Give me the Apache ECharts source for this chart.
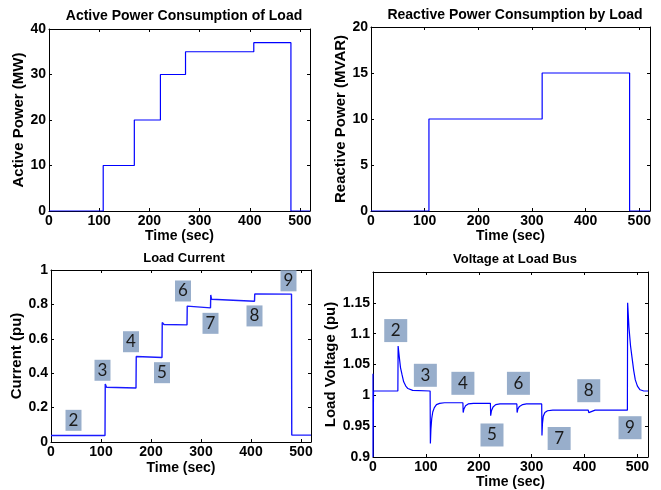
<!DOCTYPE html>
<html>
<head>
<meta charset="utf-8">
<script src="https://cdn.jsdelivr.net/npm/echarts@6/dist/echarts.min.js"></script>
<style>html,body{margin:0;background:#fff}#main{width:661px;height:490px}</style>
</head>
<body>
<div id="main"></div>
<script>
var chartDom = document.getElementById('main');
var myChart = echarts.init(chartDom);
var option;

// values (time in sec)
var activeT = [0, 108, 108, 170, 170, 222, 222, 272, 272, 408, 408, 482, 482, 520];
var activeP = [0, 0, 10, 10, 20, 20, 30, 30, 35, 35, 37, 37, 0, 0];

var reactiveT = [0, 108, 108, 319, 319, 482, 482, 520];
var reactiveQ = [0, 0, 10, 10, 15, 15, 0, 0];

var currentT = [0, 108, 108.5, 111, 115, 170, 170.5, 173, 222, 222.5, 226, 272, 272.5, 276, 319, 319.5, 321, 323, 407, 407.5, 481, 481.5, 520];
var currentI = [0.038, 0.038, 0.337, 0.318, 0.314, 0.314, 0.497, 0.491, 0.491, 0.695, 0.683, 0.681, 0.790, 0.781, 0.780, 0.855, 0.830, 0.820, 0.818, 0.861, 0.860, 0.040, 0.040];

var voltT = [0, 0, 1, 47, 47.5, 50, 52, 55, 58, 62, 66, 75, 108, 108.5, 109.5, 111, 113, 116, 120, 126, 135, 170, 170.5, 172, 175, 180, 190,
  222, 222.5, 224, 227, 232, 240, 272, 272.5, 274, 277, 283, 290, 319, 319.5, 320.5, 322, 325, 330, 340, 407, 408, 410, 414, 420,
  481, 481.5, 484, 487, 490, 493, 496, 500, 505, 512, 520];
var voltV = [1.035, 0.9, 1.007, 1.007, 1.08, 1.06, 1.045, 1.033, 1.022, 1.015, 1.011, 1.008, 1.007, 0.922, 0.945, 0.962, 0.973, 0.980, 0.985, 0.987, 0.988, 0.988, 0.972, 0.978, 0.983, 0.986, 0.987,
  0.987, 0.967, 0.975, 0.981, 0.985, 0.986, 0.986, 0.972, 0.978, 0.982, 0.985, 0.986, 0.986, 0.935, 0.955, 0.966, 0.972, 0.975, 0.976, 0.976, 0.972, 0.971, 0.974, 0.976,
  0.976, 1.15, 1.11, 1.08, 1.06, 1.04, 1.025, 1.015, 1.009, 1.007, 1.007];

// numbered boxes: [text, time, value]
var currentMarks = [['2', 45, 0.126], ['3', 103, 0.417], ['4', 160, 0.583], ['5', 222, 0.403], ['6', 264, 0.878], ['7', 319, 0.690], ['8', 407, 0.733], ['9', 475, 0.937]];
var voltMarks = [['2', 43, 1.105], ['3', 99, 1.0325], ['4', 170, 1.0195], ['5', 225, 0.9357], ['6', 275, 1.0195], ['7', 352, 0.930], ['8', 408, 1.0075], ['9', 486, 0.9475]];

var FONT = 'Liberation Sans';

function zip(t, v) {
  return t.map(function (x, i) { return [x, v[i]]; });
}

function xAxis(g, gap) {
  return {
    type: 'value', gridIndex: g, min: 0, max: 520, interval: 100,
    name: 'Time (sec)', nameLocation: 'middle', nameGap: gap,
    nameTextStyle: { color: '#000', fontWeight: 'bold', fontSize: 14, fontFamily: FONT },
    axisLine: { show: true, onZero: false, lineStyle: { color: '#000', width: 1 } },
    axisTick: { inside: true, length: 3, lineStyle: { color: '#000' } },
    axisLabel: { showMaxLabel: false, margin: 3, color: '#000', fontWeight: 'bold', fontSize: 14, fontFamily: FONT },
    splitLine: { show: false }
  };
}
function xTop(g) {
  return {
    type: 'value', gridIndex: g, position: 'top', min: 0, max: 520, interval: 100,
    axisLine: { show: true, onZero: false, lineStyle: { color: '#000', width: 1 } },
    axisTick: { inside: true, length: 3, lineStyle: { color: '#000' } },
    axisLabel: { show: false }, splitLine: { show: false }
  };
}
function yAxis(g, name, min, max, step, gap, hideMax) {
  return {
    type: 'value', gridIndex: g, min: min, max: max, interval: step,
    name: name, nameLocation: 'middle', nameGap: gap,
    nameTextStyle: { color: '#000', fontWeight: 'bold', fontSize: 15, fontFamily: FONT },
    axisLine: { show: true, onZero: false, lineStyle: { color: '#000', width: 1 } },
    axisTick: { inside: true, length: 3, lineStyle: { color: '#000' } },
    axisLabel: { showMaxLabel: !hideMax, margin: 3, color: '#000', fontWeight: 'bold', fontSize: 14, fontFamily: FONT },
    splitLine: { show: false }
  };
}
function yRight(g, min, max, step) {
  return {
    type: 'value', gridIndex: g, position: 'right', min: min, max: max, interval: step,
    axisLine: { show: true, onZero: false, lineStyle: { color: '#000', width: 1 } },
    axisTick: { inside: true, length: 3, lineStyle: { color: '#000' } },
    axisLabel: { show: false }, splitLine: { show: false }
  };
}
function boxes(list, size) {
  return {
    symbol: 'rect', symbolSize: size, silent: true,
    itemStyle: { color: '#98aecb' },
    label: { show: true, position: 'inside', color: '#1a1a1a', fontSize: 17, fontFamily: 'Lato', formatter: function (p) { return p.name; } },
    data: list.map(function (m) { return { name: m[0], coord: [m[1], m[2]] }; })
  };
}
function titleAt(text, cx, top, size) {
  return { text: text, left: cx, top: top, textAlign: 'center',
    textStyle: { color: '#000', fontWeight: 'bold', fontSize: size, fontFamily: FONT } };
}

option = {
  animation: false,
  title: [
    titleAt('Active Power Consumption of Load', 179, 4, 14),
    titleAt('Reactive Power Consumption by Load', 510, 3, 14),
    titleAt('Load Current', 179, 247, 13),
    titleAt('Voltage at Load Bus', 510, 248, 13)
  ],
  grid: [
    { left: 49, top: 29, width: 261, height: 182, outerBoundsMode: 'none' },
    { left: 371, top: 27, width: 279, height: 184, outerBoundsMode: 'none' },
    { left: 51, top: 270, width: 260, height: 172, outerBoundsMode: 'none' },
    { left: 373, top: 272, width: 275, height: 185, outerBoundsMode: 'none' }
  ],
  xAxis: [xAxis(0, 17), xAxis(1, 17), xAxis(2, 19), xAxis(3, 17), xTop(0), xTop(1), xTop(2), xTop(3)],
  yAxis: [
    yAxis(0, 'Active Power (MW)', 0, 40, 10, 21, false),
    yAxis(1, 'Reactive Power (MVAR)', 0, 20, 5, 21, false),
    yAxis(2, 'Current (pu)', 0, 1, 0.2, 22, false),
    yAxis(3, 'Load Voltage (pu)', 0.9, 1.2, 0.05, 28, true),
    yRight(0, 0, 40, 10), yRight(1, 0, 20, 5), yRight(2, 0, 1, 0.2), yRight(3, 0.9, 1.2, 0.05)
  ],
  series: [
    { type: 'line', xAxisIndex: 0, yAxisIndex: 0, data: zip(activeT, activeP), showSymbol: false, z: 5,
      lineStyle: { color: '#0000ff', width: 1.2 } },
    { type: 'line', xAxisIndex: 1, yAxisIndex: 1, data: zip(reactiveT, reactiveQ), showSymbol: false, z: 5,
      lineStyle: { color: '#0000ff', width: 1.2 } },
    { type: 'line', xAxisIndex: 2, yAxisIndex: 2, data: zip(currentT, currentI), showSymbol: false, z: 5,
      lineStyle: { color: '#1a1aff', width: 1.4 }, markPoint: boxes(currentMarks, [16, 21]) },
    { type: 'line', xAxisIndex: 3, yAxisIndex: 3, data: zip(voltT, voltV), showSymbol: false, z: 5,
      lineStyle: { color: '#0000ff', width: 1.2 }, markPoint: boxes(voltMarks, [23, 23]) }
  ]
};

option && myChart.setOption(option);
</script>
</body>
</html>
